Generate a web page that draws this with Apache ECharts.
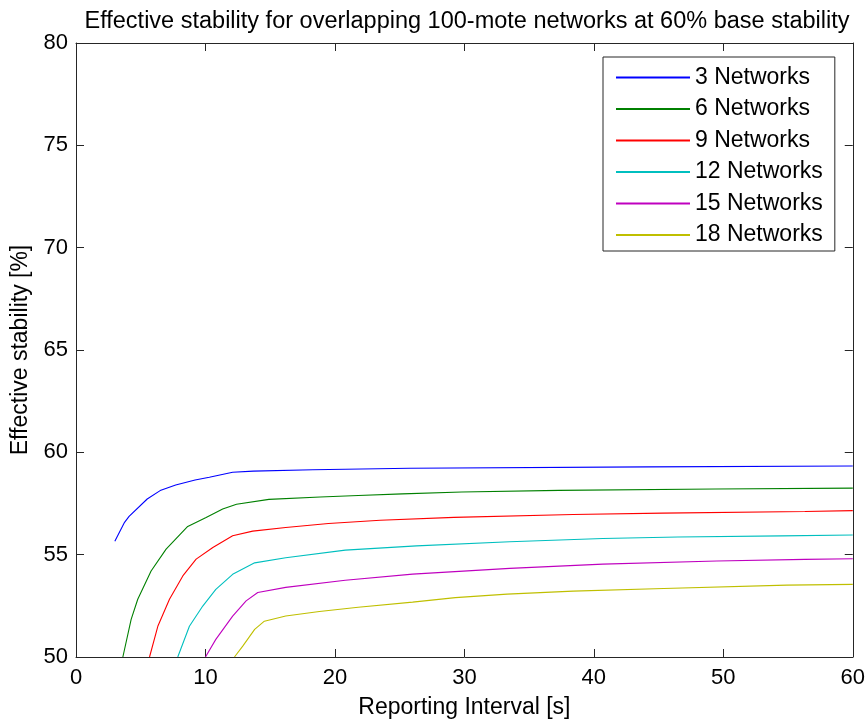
<!DOCTYPE html>
<html>
<head>
<meta charset="utf-8">
<script src="https://cdn.jsdelivr.net/npm/echarts@6/dist/echarts.min.js"></script>
<style>html,body{margin:0;padding:0;background:#fff}#c{width:868px;height:726px}</style>
</head>
<body>
<div id="c"></div>
<script>
var seriesNames = ['3 Networks','6 Networks','9 Networks','12 Networks','15 Networks','18 Networks'];
var seriesColors = ['#0000ff','#008000','#ff0000','#00bfbf','#bf00bf','#bfbf00'];

var x3  = [3, 3.75, 4.1, 5.5, 6.5, 7.7, 9.2, 10.3, 12.1, 13.7, 18.3, 25.8, 44.2, 60];
var y3  = [55.66, 56.58, 56.87, 57.72, 58.13, 58.4, 58.65, 58.78, 59.03, 59.08, 59.15, 59.22, 59.29, 59.33];
var x6  = [3.62, 4.26, 4.77, 5.8, 6.96, 8.63, 10.05, 11.33, 12.4, 14.9, 18.86, 21.8, 25.2, 29.8, 37.3, 49.4, 60];
var y6  = [50, 51.84, 52.82, 54.2, 55.27, 56.38, 56.82, 57.23, 57.46, 57.7, 57.82, 57.89, 57.97, 58.06, 58.14, 58.21, 58.25];
var x9  = [5.68, 6.32, 7.22, 8.25, 9.28, 10.57, 12.1, 13.65, 16.2, 19.5, 23.5, 29.2, 38.4, 45.3, 56.3, 60];
var y9  = [50, 51.5, 52.82, 53.96, 54.78, 55.35, 55.92, 56.15, 56.33, 56.52, 56.68, 56.82, 56.96, 57.03, 57.11, 57.15];
var x12 = [7.86, 8.76, 9.79, 10.8, 12.1, 13.8, 16.2, 20.8, 26.3, 33.5, 40.7, 46.5, 54.5, 60];
var y12 = [50, 51.5, 52.49, 53.3, 54.04, 54.6, 54.85, 55.22, 55.43, 55.63, 55.79, 55.86, 55.92, 55.96];
var x15 = [10.0, 10.8, 12.1, 13.14, 14.04, 16.2, 20.8, 26, 33.5, 40.7, 49.5, 56.3, 60];
var y15 = [50, 50.86, 52.0, 52.74, 53.15, 53.4, 53.75, 54.05, 54.33, 54.54, 54.69, 54.77, 54.8];
var x18 = [12.24, 12.88, 13.8, 14.55, 16.2, 18.8, 21.8, 26, 29.3, 33.3, 38.4, 45.4, 54.9, 60];
var y18 = [50, 50.53, 51.35, 51.75, 52.0, 52.22, 52.43, 52.68, 52.9, 53.07, 53.22, 53.35, 53.51, 53.55];

var xTicks = [0, 10, 20, 30, 40, 50, 60];
var yTicks = [50, 55, 60, 65, 70, 75, 80];

var allX = [x3, x6, x9, x12, x15, x18];
var allY = [y3, y6, y9, y12, y15, y18];

function zip(xs, ys){ return xs.map(function(v,i){ return [v, ys[i]]; }); }

var FONT = 'Liberation Sans';
var axisCol = '#262626';

var series = seriesNames.map(function(n, i){
  return {
    name: n, type: 'line', xAxisIndex: 0, yAxisIndex: 0,
    data: zip(allX[i], allY[i]),
    showSymbol: false, symbol: 'none', clip: true,
    lineStyle: {color: seriesColors[i], width: 1.1},
    itemStyle: {color: seriesColors[i]}
  };
});

var chart = echarts.init(document.getElementById('c'), null, {renderer: 'canvas'});
chart.setOption({
  animation: false,
  backgroundColor: '#ffffff',
  title: {
    text: 'Effective stability for overlapping 100-mote networks at 60% base stability',
    left: 462, top: 5, textAlign: 'center',
    textStyle: {fontFamily: FONT, fontSize: 23.5, fontWeight: 'normal', color: '#000'}
  },
  grid: {left: 76, right: 15, top: 43, bottom: 69, containLabel: false},
  legend: {
    orient: 'vertical', left: 603, top: 57,
    data: seriesNames,
    icon: 'rect', itemWidth: 74, itemHeight: 2, itemGap: 8.5,
    itemStyle: {borderWidth: 0},
    textStyle: {fontFamily: FONT, fontSize: 23, color: '#000', lineHeight: 23, padding: [0,0,0,0]},
    backgroundColor: '#fff',
    borderColor: axisCol, borderWidth: 1,
    padding: [9, 12, 4.5, 13], itemTextGap: 14
  },
  xAxis: [{
    type: 'value', min: xTicks[0], max: xTicks[xTicks.length-1], interval: 10, position: 'bottom',
    name: 'Reporting Interval [s]', nameLocation: 'middle', nameGap: 39,
    nameTextStyle: {fontFamily: FONT, fontSize: 23, color: '#000'},
    axisLine: {show: true, onZero: false, lineStyle: {color: axisCol, width: 1}},
    axisTick: {show: true, inside: true, length: 8, lineStyle: {color: axisCol}},
    axisLabel: {fontFamily: FONT, fontSize: 22, color: '#000', margin: 10},
    splitLine: {show: false}
  }, {
    type: 'value', min: 0, max: 60, interval: 10, position: 'top',
    axisLine: {show: true, onZero: false, lineStyle: {color: axisCol, width: 1}},
    axisTick: {show: true, inside: true, length: 8, lineStyle: {color: axisCol}},
    axisLabel: {show: false}, splitLine: {show: false}
  }],
  yAxis: [{
    type: 'value', min: yTicks[0], max: yTicks[yTicks.length-1], interval: 5, position: 'left',
    name: 'Effective stability [%]', nameLocation: 'middle', nameGap: 44,
    nameTextStyle: {fontFamily: FONT, fontSize: 23, color: '#000'},
    axisLine: {show: true, onZero: false, lineStyle: {color: axisCol, width: 1}},
    axisTick: {show: true, inside: true, length: 8, lineStyle: {color: axisCol}},
    axisLabel: {fontFamily: FONT, fontSize: 22, color: '#000', margin: 8},
    splitLine: {show: false}
  }, {
    type: 'value', min: 50, max: 80, interval: 5, position: 'right',
    axisLine: {show: true, onZero: false, lineStyle: {color: axisCol, width: 1}},
    axisTick: {show: true, inside: true, length: 8, lineStyle: {color: axisCol}},
    axisLabel: {show: false}, splitLine: {show: false}
  }],
  series: series
});
</script>
</body>
</html>
